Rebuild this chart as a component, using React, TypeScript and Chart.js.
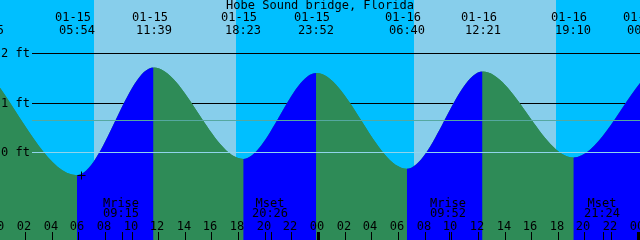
import React, { useEffect, useRef } from "react";
import { Chart, registerables } from "chart.js";

Chart.register(...registerables);

// ---------- data ----------
const title = "Hobe Sound bridge, Florida";

// tide extremes (high / low water)
const tideDates = ["01-14", "01-15", "01-15", "01-15", "01-15", "01-16", "01-16", "01-16", "01-17"];
const tideClocks = ["23:05", "05:54", "11:39", "18:23", "23:52", "06:40", "12:21", "19:10", "00:33"];
const tideFeet = [1.67, -0.47, 1.71, -0.14, 1.6, -0.34, 1.63, -0.11, 1.52];

// sun
const sunriseTimes = ["01-15 07:11", "01-16 07:12"];
const sunsetTimes = ["01-15 17:50", "01-16 17:52"];

// moon
const moonNames = ["Mrise", "Mset", "Mrise", "Mset"];
const moonTimes = ["01-15 09:15", "01-15 20:26", "01-16 09:52", "01-16 21:24"];

// y reference lines
const depthLevels = [2, 1]; // black lines drawn behind the water
const depthLabels = ["2 ft", "1 ft", "0 ft"];
const depthLabelLevels = [2, 1, 0];
const datumLevel = 0;
const meanLevel = 0.64;

// hour axis
const hourValues = [0, 2, 4, 6, 8, 10, 12, 14, 16, 18, 20, 22, 24, 26, 28, 30, 32, 34, 36, 38, 40, 42, 44, 46, 48];
const hourLabels = ["00", "02", "04", "06", "08", "10", "12", "14", "16", "18", "20", "22", "00", "02", "04", "06", "08", "10", "12", "14", "16", "18", "20", "22", "00"];
const midnightValues = [0, 24, 48];

// marker
const markTime = "01-15 06:12";
const markLevel = -0.47;

// visible window (hours from 01-15 00:00, feet)
const xMin = 0.123;
const xMax = 48.171;
const yMin = -1.783;
const yMax = 3.08;

// ---------- colours ----------
const DAY = "#87CEEB";
const NIGHT = "#00BFFF";
const FLOOD = "#0000FF";
const EBB = "#2E8B57";
const MSL_COLOR = "#55A8A0";
const DATUM_COLOR = "#90D4EC";
const FONT = "12px 'DejaVu Sans Mono', 'Liberation Mono', monospace";

function parseT(s: string): number {
  const [d, t] = s.split(" ");
  const day = parseInt(d.split("-")[1], 10);
  const [hh, mm] = t.split(":").map(Number);
  return (day - 15) * 24 + hh + mm / 60;
}

const tidePlugin = {
  id: "tidePlugin",
  beforeDatasetsDraw(chart: any) {
    const { ctx, scales } = chart;
    const xs = scales.x;
    const ys = scales.y;
    const W = chart.width;
    const H = chart.height;
    ctx.save();
    ctx.fillStyle = NIGHT;
    ctx.fillRect(0, 0, W, H);
    ctx.fillStyle = DAY;
    for (let i = 0; i < sunriseTimes.length; i++) {
      const a = Math.round(xs.getPixelForValue(parseT(sunriseTimes[i])));
      const b = Math.round(xs.getPixelForValue(parseT(sunsetTimes[i])));
      ctx.fillRect(a, 0, b - a, H);
    }
    ctx.strokeStyle = "#000";
    ctx.lineWidth = 1;
    for (const lv of depthLevels) {
      const py = Math.round(ys.getPixelForValue(lv)) + 0.5;
      ctx.beginPath();
      ctx.moveTo(32, py);
      ctx.lineTo(W, py);
      ctx.stroke();
    }
    ctx.restore();
  },
  afterDatasetsDraw(chart: any) {
    const { ctx, scales } = chart;
    const xs = scales.x;
    const ys = scales.y;
    const W = chart.width;
    const H = chart.height;
    ctx.save();
    // mean and datum lines on top
    const lines: [number, string][] = [
      [meanLevel, MSL_COLOR],
      [datumLevel, DATUM_COLOR],
    ];
    ctx.lineWidth = 1;
    for (const [lv, col] of lines) {
      const py = Math.round(ys.getPixelForValue(lv)) + 0.5;
      ctx.strokeStyle = col;
      ctx.beginPath();
      ctx.moveTo(32, py);
      ctx.lineTo(W, py);
      ctx.stroke();
    }

    ctx.fillStyle = "#000";
    ctx.font = FONT;
    ctx.textBaseline = "alphabetic";

    // title
    ctx.textAlign = "center";
    ctx.fillText(title, 320, 9);

    // tide event labels
    for (let i = 0; i < tideDates.length; i++) {
      const px = Math.round(xs.getPixelForValue(parseT(tideDates[i] + " " + tideClocks[i])));
      ctx.fillText(tideDates[i], px - 4, 21);
      ctx.fillText(tideClocks[i], px, 34);
    }

    // y labels
    ctx.textAlign = "left";
    for (let i = 0; i < depthLabels.length; i++) {
      const py = Math.round(ys.getPixelForValue(depthLabelLevels[i]));
      ctx.fillText(depthLabels[i], 1, py + 4);
    }

    // moon labels
    ctx.textAlign = "center";
    for (let i = 0; i < moonNames.length; i++) {
      const px = Math.round(xs.getPixelForValue(parseT(moonTimes[i])));
      ctx.fillText(moonNames[i], px - 1, 207);
      ctx.fillText(moonTimes[i].split(" ")[1], px - 1, 217);
    }

    // hour labels and ticks
    for (let i = 0; i < hourValues.length; i++) {
      const px = Math.round(xs.getPixelForValue(hourValues[i]));
      ctx.fillText(hourLabels[i], px - 1, 230);
      ctx.fillRect(px, 232, 1, H - 232);
    }
    for (const m of midnightValues) {
      const px = Math.round(xs.getPixelForValue(m));
      ctx.fillRect(px - 1, 232, 3, H - 232);
    }
    for (let i = 0; i < moonTimes.length; i++) {
      const px = Math.round(xs.getPixelForValue(parseT(moonTimes[i])));
      ctx.fillRect(px, 232, 1, H - 232);
    }

    // marker
    const mx = Math.round(xs.getPixelForValue(parseT(markTime))) + 0.5;
    const my = Math.round(ys.getPixelForValue(markLevel)) + 0.5;
    ctx.strokeStyle = "#000";
    ctx.beginPath();
    ctx.moveTo(mx - 4, my);
    ctx.lineTo(mx + 4, my);
    ctx.moveTo(mx, my - 4);
    ctx.lineTo(mx, my + 4);
    ctx.stroke();
    ctx.restore();
  },
};

export default function App() {
  const canvasRef = useRef<HTMLCanvasElement | null>(null);

  useEffect(() => {
    const canvas = canvasRef.current;
    if (!canvas) return;
    const points = tideDates.map((d, i) => ({ x: parseT(d + " " + tideClocks[i]), y: tideFeet[i] }));
    const common = {
      fill: "start",
      borderWidth: 0,
      borderColor: "rgba(0,0,0,0)",
      pointRadius: 0,
      cubicInterpolationMode: "monotone",
    };
    const chart = new Chart(canvas, {
      type: "line",
      data: {
        datasets: [
          {
            ...common,
            data: points,
            order: 0,
            backgroundColor: EBB,
            segment: {
              backgroundColor: (c: any) => (c.p1.parsed.y > c.p0.parsed.y ? FLOOD : EBB),
            },
          } as any,
          {
            // plain water underlay (hides seams between flood/ebb fills)
            ...common,
            data: points,
            order: 1,
            backgroundColor: EBB,
          } as any,
        ],
      },
      options: {
        animation: false,
        responsive: false,
        devicePixelRatio: 1,
        events: [],
        layout: { padding: 0 },
        elements: { line: { capBezierPoints: false } as any },
        scales: {
          x: { type: "linear", min: xMin, max: xMax, display: false },
          y: { type: "linear", min: yMin, max: yMax, display: false },
        },
        plugins: {
          legend: { display: false },
          tooltip: { enabled: false },
          title: { display: false },
        },
      },
      plugins: [tidePlugin],
    });
    return () => chart.destroy();
  }, []);

  return (
    <div style={{ position: "fixed", left: 0, top: 0, width: 640, height: 240 }}>
      <canvas ref={canvasRef} width={640} height={240} style={{ display: "block", width: 640, height: 240 }} />
    </div>
  );
}
